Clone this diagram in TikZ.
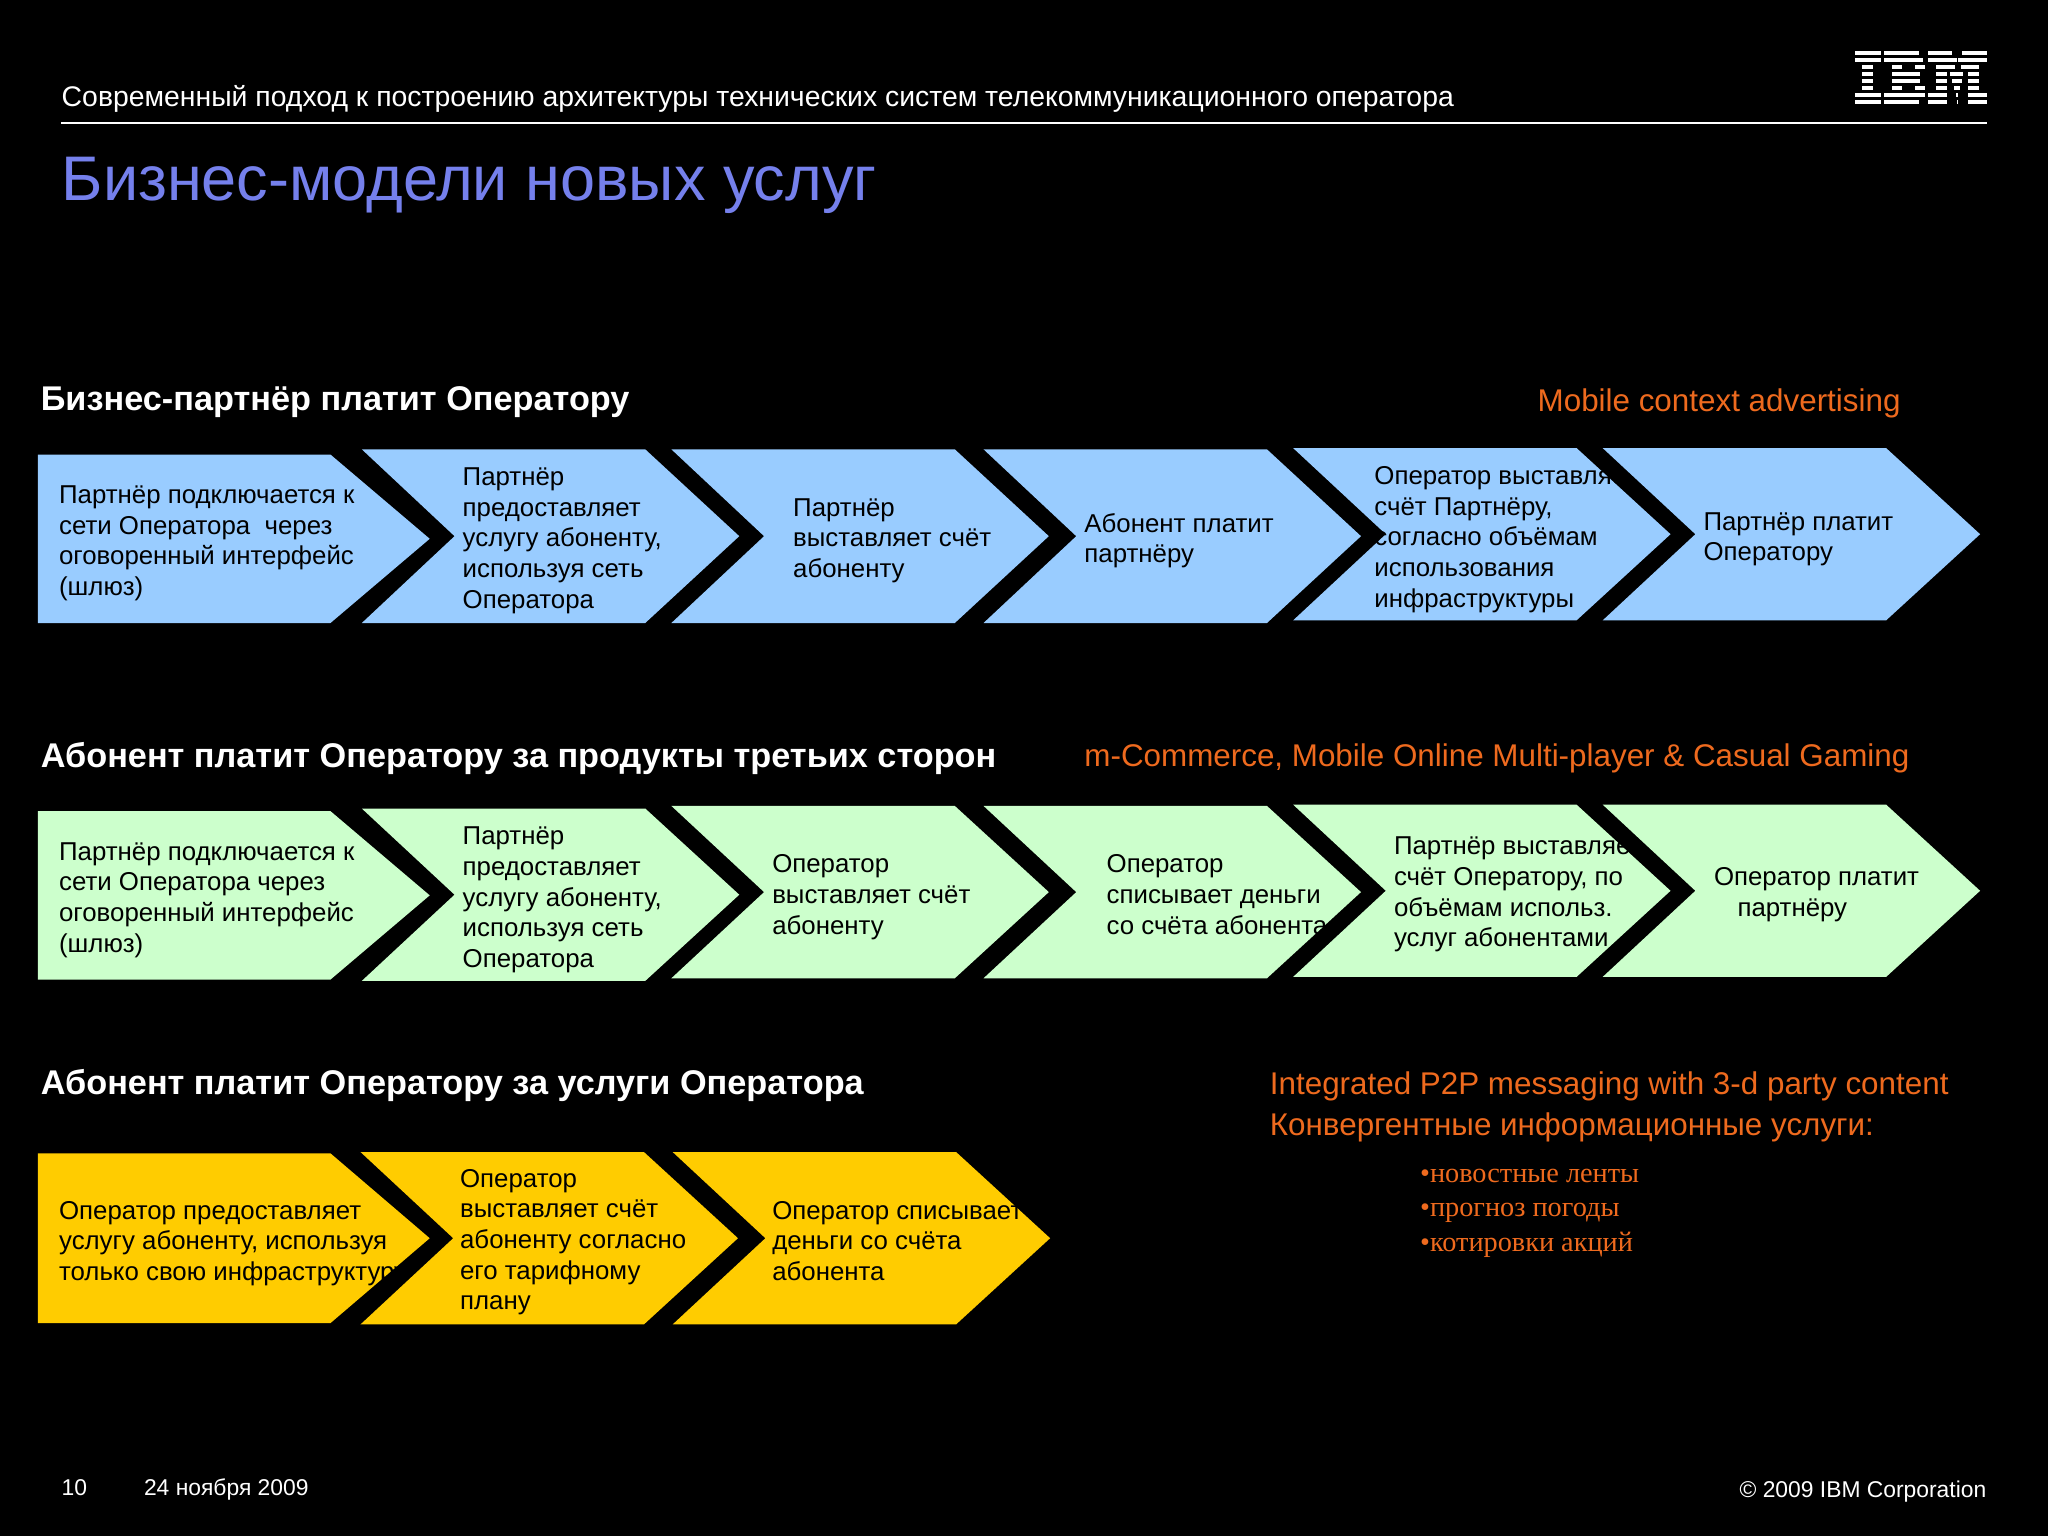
\documentclass[tikz,border=0pt]{standalone}
\usepackage{fontspec}
\setmainfont{Liberation Sans}
\newfontfamily\listfont{Liberation Serif}
\definecolor{bluechev}{HTML}{99CCFF}
\definecolor{greenchev}{HTML}{CCFFCC}
\definecolor{yellowchev}{HTML}{FFCC00}
\definecolor{titleblue}{HTML}{7580EC}
\definecolor{adorange}{HTML}{EE6A1E}
\tikzset{
  steptext/.style={anchor=west,inner sep=0pt,align=left,black,font=\fontsize{14.7}{17.47}\selectfont},
  headtext/.style={anchor=west,inner sep=0pt,white,font=\fontsize{19.5}{24}\selectfont\bfseries},
  adtext/.style={anchor=west,inner sep=0pt,adorange,font=\fontsize{17.86}{22}\selectfont},
  listtext/.style={anchor=base west,inner sep=0pt,adorange,font=\fontsize{16.1}{19}\listfont},
  foottext/.style={inner sep=0pt,white,font=\fontsize{13}{16}\selectfont}
}
% first chevron of a row, flat on the left
\newcommand{\firstchev}[9]{%
  \fill[#5] (29,#2) -- (253,#2) -- (329,{(#2+#3)/2}) -- (253,#3) -- (29,#3) -- cycle;
  \node[steptext] (#1) at (#6,#7) {#8};}
% other chevrons: name, left x, top, bottom, colour, text x, text y, text
\newcommand{\nextchev}[8]{%
  \fill[#5] (#2,#3) -- (#2+217,#3) -- (#2+289,{(#3+#4)/2}) -- (#2+217,#4) -- (#2,#4) -- (#2+71,{(#3+#4)/2}) -- cycle;
  \node[steptext] (#1) at (#6,#7) {#8};}
\begin{document}
\begin{tikzpicture}[x=0.026122cm,y=-0.026122cm]
  \fill[black] (0,0) rectangle (1568,1176);
  \useasboundingbox (0,0) rectangle (1568,1176);

  % heading
  \node[anchor=west,inner sep=0pt,white,font=\fontsize{16.15}{19}\selectfont] (subtitle) at (47,76)
    {Современный подход к построению архитектуры технических систем телекоммуникационного оператора};
  \coordinate (ruleleft) at (47,94);
  \coordinate (ruleright) at (1521,94);
  \draw[white,line width=1.1pt] (ruleleft) -- (ruleright);
  \node[anchor=west,inner sep=0pt,titleblue,font=\fontsize{35.85}{42}\selectfont] (title) at (47,142) {Бизнес-модели новых услуг};

  % logo, stripe by stripe
  \begin{scope}[x=0.02cm,y=-0.02cm]
    \foreach\yy/\segs in {
      51/{1855/1881,1884/1919,1928/1952,1962/1987},
      58/{1855/1881,1884/1923,1928/1957,1958/1987},
      65/{1862/1873,1892/1902,1915/1925,1936/1955,1961/1979},
      72/{1862/1873,1892/1920,1936/1947,1950/1963,1968/1979},
      79/{1862/1873,1892/1920,1936/1947,1952/1962,1968/1979},
      86/{1862/1873,1892/1902,1915/1925,1936/1947,1954/1960,1968/1979},
      93/{1855/1881,1884/1925,1928/1947,1956/1958,1968/1987},
      100/{1855/1881,1884/1919,1928/1947,1957/1958,1968/1987}}{
      \foreach\xa/\xb in \segs
        \fill[white] (\xa,\yy) rectangle (\xb,\yy+4);
    }
  \end{scope}

  % row one
  \node[headtext] (headone) at (31,308) {Бизнес-партнёр платит Оператору};
  \node[adtext] (adone) at (1177,309) {Mobile context advertising};
  \firstchev{bone}{348}{477}{}{bluechev}{45}{416}{Партнёр подключается к\\сети Оператора\ \ через\\оговоренный интерфейс\\(шлюз)}{}
  \nextchev{btwo}{277}{344}{477}{bluechev}{354}{414}{Партнёр\\предоставляет\\услугу абоненту,\\используя сеть\\Оператора}
  \nextchev{bthree}{514}{344}{477}{bluechev}{607}{414}{Партнёр\\выставляет счёт\\абоненту}
  \nextchev{bfour}{753}{344}{477}{bluechev}{830}{414}{Абонент платит\\партнёру}
  \nextchev{bfive}{990}{343}{475}{bluechev}{1052}{413}{Оператор выставляет\\счёт Партнёру,\\согласно объёмам\\использования\\инфраструктуры}
  \nextchev{bsix}{1227}{343}{475}{bluechev}{1304}{413}{Партнёр платит\\Оператору}

  % row two
  \node[headtext] (headtwo) at (31,581) {Абонент платит Оператору за продукты третьих сторон};
  \node[adtext] (adtwo) at (830,581) {m-Commerce, Mobile Online Multi-player \& Casual Gaming};
  \firstchev{gone}{621}{750}{}{greenchev}{45}{689}{Партнёр подключается к\\сети Оператора через\\оговоренный интерфейс\\(шлюз)}{}
  \nextchev{gtwo}{277}{619}{751}{greenchev}{354}{689}{Партнёр\\предоставляет\\услугу абоненту,\\используя сеть\\Оператора}
  \nextchev{gthree}{514}{617}{749}{greenchev}{591}{687}{Оператор\\выставляет счёт\\абоненту}
  \nextchev{gfour}{753}{617}{749}{greenchev}{847}{685}{Оператор\\списывает деньги\\со счёта абонента}
  \nextchev{gfive}{990}{616}{748}{greenchev}{1067}{685}{Партнёр выставляет\\счёт Оператору, по\\объёмам использ.\\услуг абонентами}
  \nextchev{gsix}{1227}{616}{748}{greenchev}{1312}{685}{Оператор платит\\\hspace*{13.4pt}партнёру}

  % row three
  \node[headtext] (headthree) at (31,831) {Абонент платит Оператору за услуги Оператора};
  \firstchev{yone}{883}{1013}{}{yellowchev}{45}{952}{Оператор предоставляет\\услугу абоненту, используя\\только свою инфраструктуру}{}
  \nextchev{ytwo}{276}{882}{1014}{yellowchev}{352}{951}{Оператор\\выставляет счёт\\абоненту согласно\\его тарифному\\плану}
  \nextchev{ythree}{515}{882}{1014}{yellowchev}{591}{950}{Оператор списывает\\деньги со счёта\\абонента}

  % right hand notes
  \node[adtext] (adthree) at (972,832) {Integrated P2P messaging with 3-d party content};
  \node[adtext] (adfour) at (972,863) {Конвергентные информационные услуги:};
  \node[listtext] (listone) at (1087,905) {•новостные ленты};
  \node[listtext] (listtwo) at (1087,931) {•прогноз погоды};
  \node[listtext] (listthree) at (1087,958) {•котировки акций};

  % footer
  \node[foottext,anchor=west] (pageno) at (47,1139) {10};
  \node[foottext,anchor=west] (datestamp) at (110,1140) {24 ноября 2009};
  \node[foottext,anchor=east] (copyright) at (1521,1142) {© 2009 IBM Corporation};
\end{tikzpicture}
\end{document}
